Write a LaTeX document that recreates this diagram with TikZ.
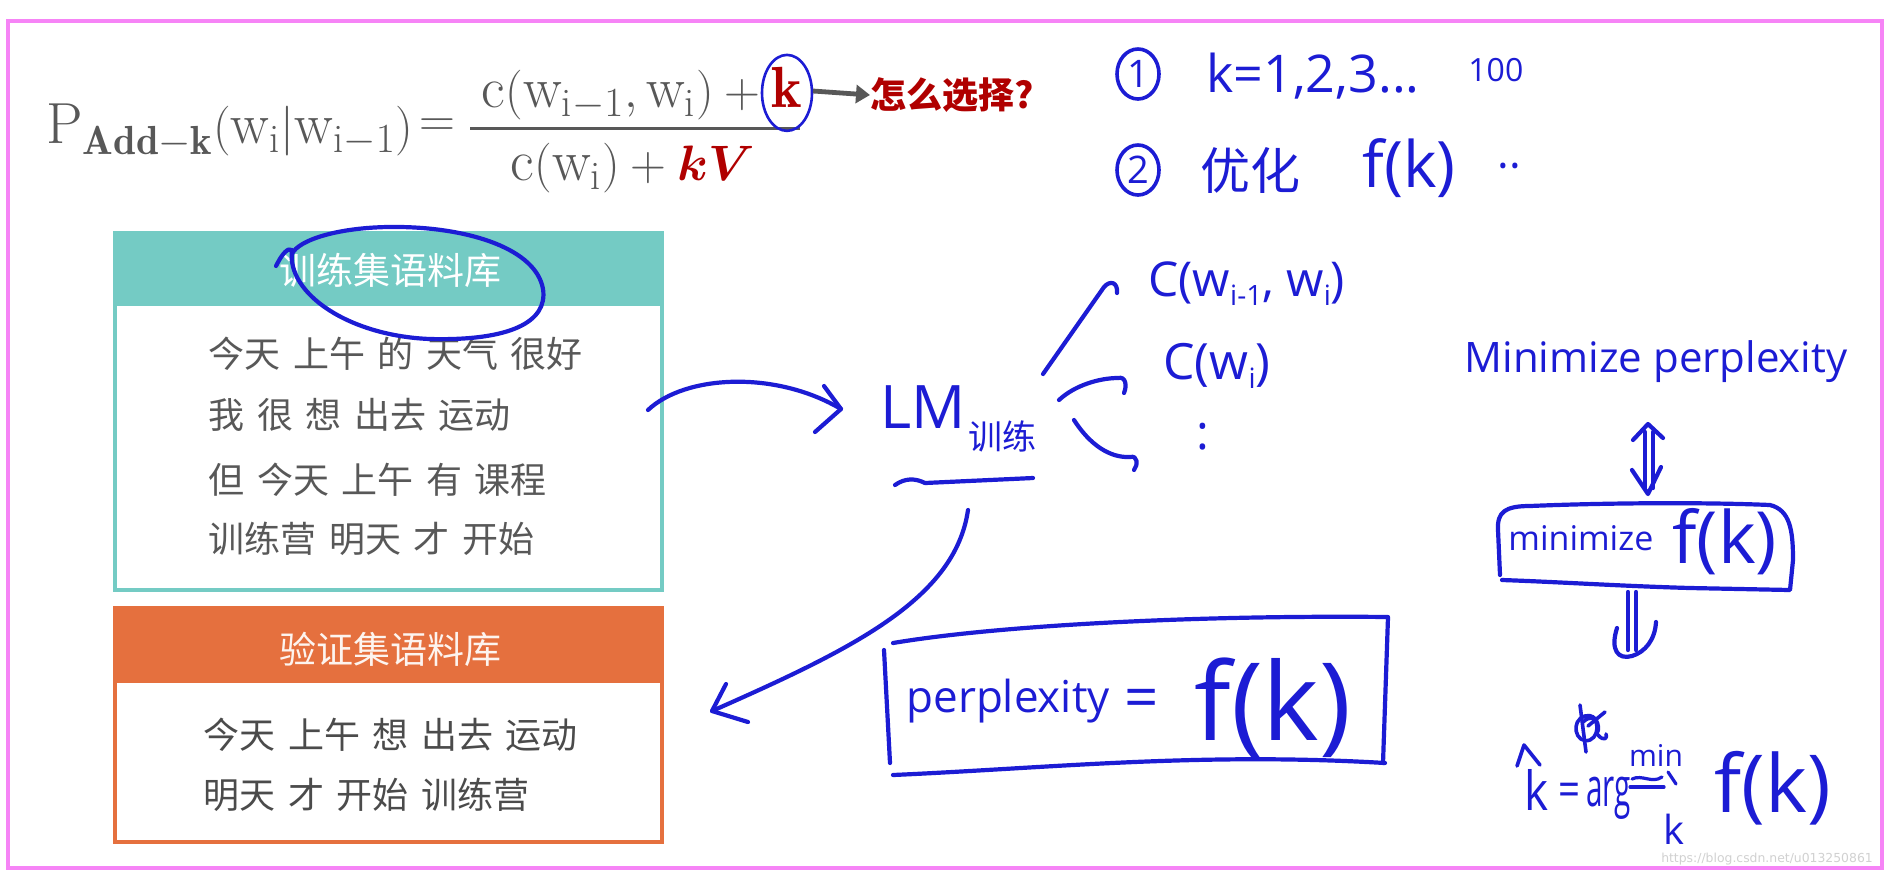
\documentclass[tikz,border=0pt]{standalone}
\usepackage{fontspec}
\usepackage{amsmath}
\usepackage{graphicx}
\newfontfamily\cjk{Noto Sans CJK SC}
\newfontfamily\hand{Open Sans}
\newfontfamily\wmfont{DejaVu Sans}
\usetikzlibrary{arrows.meta,shapes.geometric}
\definecolor{penc}{RGB}{28,28,212}
\definecolor{pinkc}{RGB}{246,132,246}
\definecolor{tealc}{RGB}{116,203,196}
\definecolor{orangec}{RGB}{229,112,62}
\definecolor{graytxt}{RGB}{88,88,88}
\definecolor{redc}{RGB}{176,0,0}
\newcommand\wsp{\hspace{0.35em}}
\newcommand\narrow[2]{\scalebox{#1}[1]{#2}}
\begin{document}
\begin{tikzpicture}[x=0.5pt,y=-0.5pt,
  pen/.style={draw=penc, line width=2.1pt, line cap=round, line join=round},
  hw/.style={text=penc, font=\hand, inner sep=0pt},
  fml/.style={text=graytxt, inner sep=0pt, font=\fontsize{29}{34}\selectfont},
  bodytxt/.style={text=graytxt, inner sep=0pt, anchor=west, font=\cjk\fontsize{18}{22}\selectfont},
  headtxt/.style={inner sep=0pt, font=\cjk\fontsize{18.5}{22}\selectfont}]
\useasboundingbox (0,0) rectangle (1895,880);
\fill[white] (0,0) rectangle (1895,880);
\draw[pinkc, line width=1.8pt] (8,21) rectangle (1882,868);

% ---------- formula ----------
\node[fml, anchor=base west] (lhs) at (46,143)
  {$\mathrm{P}_{\mathbf{Add}-\mathbf{k}}(\mathrm{w}_{\mathrm{i}}|\mathrm{w}_{\mathrm{i}-1})$};
\node[fml] (eq) at (437,128) {$=$};
\draw[graytxt, line width=1.5pt] (470,128) -- (800,128);
\node[fml, anchor=base east] (num) at (772,107)
  {$\mathrm{c}(\mathrm{w}_{\mathrm{i}-1},\mathrm{w}_{\mathrm{i}})+{}$};
\node[fml, anchor=base, text=redc] (kk) at (787,107) {$\mathbf{k}$};
\node[fml, anchor=base] (den) at (633,180)
  {$\mathrm{c}(\mathrm{w}_{\mathrm{i}})+\textcolor{redc}{\boldsymbol{kV}}$};
\draw[pen, line width=1.3pt] ([yshift=-3pt]kk.center) ellipse [x radius=12.5pt, y radius=19pt];
\node[inner sep=0pt, anchor=west, text=redc, font=\cjk\bfseries\fontsize{18}{22}\selectfont] (q) at (870,95) {怎么选择?};
\draw[graytxt, line width=2.4pt, -{Triangle[length=7pt,width=9pt]}] (813,91) -- (q.west);

% ---------- top right notes ----------
\node[draw=penc, line width=1.8pt, ellipse, minimum width=21pt, minimum height=25pt, inner sep=0pt,
      text=penc, font=\hand\fontsize{19}{22}\selectfont] (n1) at (1138,74) {1};
\node[hw, anchor=west, font=\hand\fontsize{26}{30}\selectfont] (k1) at (1206,76) {k=1,2,3...};
\node[hw, anchor=west, font=\hand\fontsize{16}{18}\selectfont] (h100) at (1468,70) {100};
\node[draw=penc, line width=1.8pt, ellipse, minimum width=21pt, minimum height=25pt, inner sep=0pt,
      text=penc, font=\hand\fontsize{19}{22}\selectfont] (n2) at (1138,170) {2};
\node[hw, anchor=west, font=\cjk\fontsize{25}{30}\selectfont] (yh) at (1200,170) {优化};
\node[hw, anchor=west, font=\hand\fontsize{32}{36}\selectfont] (fk1) at (1362,168) {f(k)};
\node[hw, anchor=west, font=\hand\fontsize{22}{26}\selectfont] (dots) at (1497,172) {··};

% ---------- training corpus box ----------
\fill[tealc] (115,233) rectangle (662,306);
\draw[tealc, line width=1.6pt] (115,233) rectangle (662,590);
\node[headtxt, text=white] (trh) at (390,270) {训练集语料库};
\node[bodytxt] (t1) at (208,354) {今天\wsp 上午\wsp 的\wsp 天气\wsp 很好};
\node[bodytxt] (t2) at (208,415) {我\wsp 很\wsp 想\wsp 出去\wsp 运动};
\node[bodytxt] (t3) at (208,480) {但\wsp 今天\wsp 上午\wsp 有\wsp 课程};
\node[bodytxt] (t4) at (208,539) {训练营\wsp 明天\wsp 才\wsp 开始};
% hand circle around header
\draw[pen] (276,266) .. controls (282,254) and (288,247) .. (292,250)
  .. controls (286,294) and (350,336) .. (430,339)
  .. controls (510,341) and (548,322) .. (543,289)
  .. controls (536,249) and (470,228) .. (400,227)
  .. controls (340,226) and (298,240) .. (292,254);

% ---------- validation corpus box ----------
\fill[orangec] (115,608) rectangle (662,683);
\draw[orangec, line width=1.6pt] (115,608) rectangle (662,842);
\node[headtxt, text=white!92!orangec] (vah) at (390,649) {验证集语料库};
\node[bodytxt, text=graytxt!85!black] (v1) at (203,735) {今天\wsp 上午\wsp 想\wsp 出去\wsp 运动};
\node[bodytxt, text=graytxt!85!black] (v2) at (203,795) {明天\wsp 才\wsp 开始\wsp 训练营};

% ---------- LM ----------
\node[hw, anchor=base west, font=\hand\fontsize{30}{34}\selectfont] (lm) at (880,428) {LM};
\node[hw, anchor=west, font=\cjk\fontsize{17}{20}\selectfont] (lmsub) at (968,436) {训练};
\coordinate (trout) at (648,410);
\coordinate (lmin) at (841,409);
\draw[pen] (trout) .. controls (685,375) and (775,370) .. (lmin);
\draw[pen] (824,386) -- (lmin) -- (815,432);
\draw[pen] (895,485) .. controls (905,478) and (915,478) .. (925,483) -- (1033,478);

% arrows to counts
\node[hw, anchor=west, font=\hand\fontsize{24}{28}\selectfont] (c2) at (1148,284)
  {C(w\raisebox{-0.35ex}{\fontsize{14}{16}\selectfont i-1}, w\raisebox{-0.35ex}{\fontsize{14}{16}\selectfont i})};
\node[hw, anchor=west, font=\hand\fontsize{25}{28}\selectfont] (c1) at (1163,366)
  {C(w\raisebox{-0.35ex}{\fontsize{14}{16}\selectfont i})};
\node[hw, font=\hand\fontsize{24}{28}\selectfont] (c3) at (1203,437) {:};
\coordinate (a1s) at (1043,374);
\coordinate (a1e) at (1104,287);
\draw[pen] (a1s) -- (a1e) .. controls (1110,280) and (1118,282) .. (1117,293);
\coordinate (a2s) at (1059,400);
\coordinate (a2e) at (1118,378);
\draw[pen] (a2s) .. controls (1075,385) and (1100,378) .. (a2e) .. controls (1126,376) and (1127,386) .. (1124,393);
\coordinate (a3s) at (1074,420);
\coordinate (a3e) at (1130,457);
\draw[pen] (a3s) .. controls (1090,445) and (1110,458) .. (a3e) .. controls (1138,455) and (1138,465) .. (1134,470);

% LM -> validation
\coordinate (lmdown) at (968,510);
\coordinate (vtip) at (712,711);
\draw[pen] (lmdown) .. controls (955,600) and (850,650) .. (vtip);
\draw[pen] (726,684) -- (vtip) -- (748,722);

% perplexity box
\node[hw, anchor=base west, font=\hand\fontsize{22}{26}\selectfont] (ppl) at (906,712) {perplexity};
\node[hw, anchor=base west, font=\hand\fontsize{30}{34}\selectfont] (peq) at (1124,718) {=};
\node[hw, anchor=base west, font=\hand\fontsize{54}{60}\selectfont] (pfk) at (1194,740) {f(k)};
\draw[pen] (884,650) -- (890,763);
\draw[pen] (893,643) .. controls (1000,625) and (1200,615) .. (1388,617) -- (1383,763);
\draw[pen] (893,775) .. controls (1050,768) and (1200,752) .. (1385,763);

% ---------- right column ----------
\node[hw, font=\hand\fontsize{21}{24}\selectfont] (minp) at (1656,362) {Minimize perplexity};
\draw[pen] (1645,432) -- (1645,488);
\draw[pen] (1653,432) -- (1653,488);
\draw[pen] (1633,440) -- (1648,424) -- (1663,438);
\draw[pen] (1632,470) -- (1648,494) -- (1661,467);
\node[hw, anchor=base west, font=\hand\fontsize{17}{20}\selectfont] (minw) at (1508,550) {minimize};
\node[hw, anchor=base west, font=\hand\fontsize{36}{40}\selectfont] (minf) at (1672,563) {f(k)};
\draw[pen] (1500,575) -- (1498,530) .. controls (1497,512) and (1505,506) .. (1530,506)
  .. controls (1600,503) and (1700,502) .. (1770,505) .. controls (1790,510) and (1793,530) .. (1793,560) -- (1790,590)
  -- (1690,588) .. controls (1620,586) and (1560,582) .. (1502,580);
\draw[pen] (1628,592) -- (1628,650);
\draw[pen] (1636,592) -- (1636,650);
\draw[pen] (1617,628) .. controls (1610,650) and (1618,660) .. (1632,656) .. controls (1645,652) and (1655,640) .. (1656,622);
% scribble
\draw[pen, line width=1.8pt] (1580,705) -- (1586,752);
\draw[pen, line width=1.8pt] (1588,726) -- (1605,712);
\draw[pen, line width=1.8pt] (1583,722) .. controls (1598,708) and (1602,735) .. (1590,740) .. controls (1575,745) and (1570,720) .. (1585,716) .. controls (1598,712) and (1602,732) .. (1595,735);
\draw[pen, line width=1.8pt] (1598,735) .. controls (1604,742) and (1608,738) .. (1606,734);
% k-hat formula
\node[hw, anchor=base west, font=\hand\fontsize{27}{32}\selectfont] (khat) at (1524,810) {\narrow{0.85}{k}};
\draw[pen, line width=1.8pt] (1517,766) -- (1524,745) -- (1540,765);
\node[hw, anchor=base west, font=\hand\fontsize{24}{28}\selectfont] (keq) at (1558,806) {\narrow{0.8}{=}};
\node[hw, anchor=base west, font=\hand\fontsize{27}{32}\selectfont] (karg) at (1586,806) {\narrow{0.55}{arg}};
\draw[pen, line width=1.6pt] (1632,779) .. controls (1642,774) and (1652,784) .. (1662,777);
\draw[pen, line width=1.6pt] (1630,787) -- (1664,787);
\draw[pen, line width=1.6pt] (1668,772) -- (1676,784);
\node[hw, font=\hand\fontsize{15}{18}\selectfont] (mn) at (1656,755) {min};
\node[hw, font=\hand\fontsize{20}{24}\selectfont] (ksub) at (1674,829) {k};
\node[hw, anchor=base west, font=\hand\fontsize{40}{44}\selectfont] (fk3) at (1714,812) {f(k)};

% watermark
\node[inner sep=0pt, text=black!18, font=\wmfont\fontsize{6.2}{8}\selectfont] (wm) at (1767,859) {https://blog.csdn.net/u013250861};
\end{tikzpicture}
\end{document}
